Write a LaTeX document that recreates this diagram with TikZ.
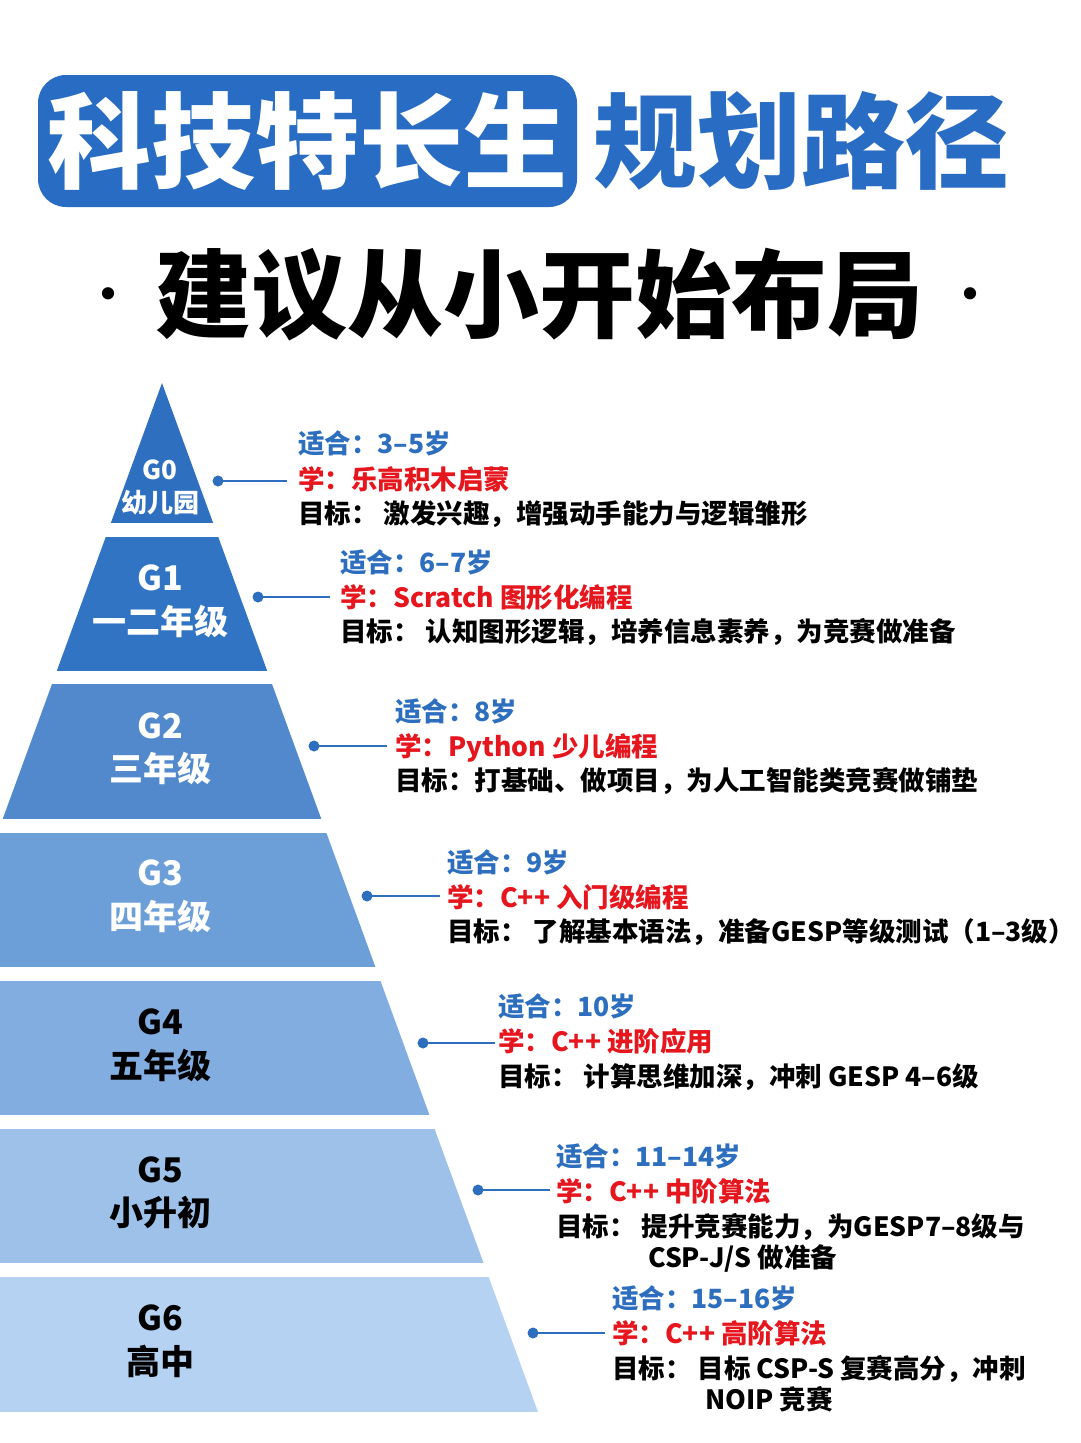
\documentclass[tikz,border=0pt]{standalone}
\usepackage{fontspec}
\setmainfont{Noto Sans CJK SC}
\newfontfamily\heavy{Noto Sans CJK SC Black}
\usetikzlibrary{calc}
\definecolor{tblue}{RGB}{40,108,195}
\definecolor{ablue}{RGB}{45,110,190}
\definecolor{lred}{RGB}{230,22,30}
\definecolor{c0}{RGB}{46,111,192}
\definecolor{c1}{RGB}{50,116,196}
\definecolor{c2}{RGB}{82,137,205}
\definecolor{c3}{RGB}{108,158,216}
\definecolor{c4}{RGB}{129,173,224}
\definecolor{c5}{RGB}{158,193,233}
\definecolor{c6}{RGB}{181,210,242}
\begin{document}
\begin{tikzpicture}[x=1pt,y=-1pt,
  lab/.style={font=\bfseries\fontsize{34}{34}\selectfont, inner sep=0},
  labs/.style={font=\bfseries\fontsize{26}{26}\selectfont, inner sep=0},
  info/.style={anchor=base west, inner sep=0, font=\bfseries\fontsize{26.5}{30}\selectfont},
  age/.style={info, text=ablue},
  learn/.style={info, text=lred},
  goal/.style={info, text=black},
  conn/.style={draw=ablue, line width=2pt},
  dotc/.style={fill=ablue}]
\path[use as bounding box, fill=white] (0,0) rectangle (1080,1443);

% title
\node[fill=tblue, rounded corners=28pt, minimum width=539pt, minimum height=132pt,
      text=white, font=\heavy\fontsize{104}{104}\selectfont, inner sep=0] (t1) at (307.5,141) {科技特长生};
\node[text=tblue, font=\heavy\fontsize{104}{104}\selectfont, inner sep=0] (t2) at (801,141) {规划路径};
\node[font=\heavy\fontsize{96}{96}\selectfont, inner sep=0] (sub) at (539,295) {建议从小开始布局};
\node[font=\bfseries\fontsize{44}{44}\selectfont, inner sep=0] (dl) at (108,299) {·};
\node[font=\bfseries\fontsize{44}{44}\selectfont, inner sep=0] (dr) at (970,299) {·};

% pyramid
\begin{scope}
\clip (162,383) -- (-214,1412) -- (538,1412) -- cycle;
\fill[c0] (0,380) rectangle (600,523);
\fill[c1] (0,537) rectangle (600,671);
\fill[c2] (0,684) rectangle (600,819);
\fill[c3] (0,833) rectangle (600,967);
\fill[c4] (0,981) rectangle (600,1115);
\fill[c5] (0,1129) rectangle (600,1263);
\fill[c6] (0,1277) rectangle (600,1412);
\end{scope}

% band labels
\node[labs, text=white] (g0a) at (160,470) {G0};
\node[labs, text=white] (g0b) at (160,503) {幼儿园};
\node[lab, text=white] (g1a) at (160,578) {G1};
\node[lab, text=white] (g1b) at (160,621) {一二年级};
\node[lab, text=white] (g2a) at (160,726) {G2};
\node[lab, text=white] (g2b) at (160,768) {三年级};
\node[lab, text=white] (g3a) at (160,873) {G3};
\node[lab, text=white] (g3b) at (160,916) {四年级};
\node[lab] (g4a) at (160,1022) {G4};
\node[lab] (g4b) at (160,1065) {五年级};
\node[lab] (g5a) at (160,1170) {G5};
\node[lab] (g5b) at (160,1212) {小升初};
\node[lab] (g6a) at (160,1318) {G6};
\node[lab] (g6b) at (160,1361) {高中};

% G0
\node[age]   (a0) at (298,453) {适合：3–5岁};
\node[learn] (l0) at (298,489) {学：乐高积木启蒙};
\node[goal]  (o0) at (298,523) {目标：\ 激发兴趣，增强动手能力与逻辑雏形};
\coordinate (d0) at (218,481); \coordinate (e0) at (287,481);
% G1
\node[age]   (a1) at (340,572) {适合：6–7岁};
\node[learn] (l1) at (340,607) {学：Scratch 图形化编程};
\node[goal]  (o1) at (340,641) {目标：\ 认知图形逻辑，培养信息素养，为竞赛做准备};
\coordinate (d1) at (258,597); \coordinate (e1) at (330,597);
% G2
\node[age]   (a2) at (395,721) {适合：8岁};
\node[learn] (l2) at (395,756) {学：Python 少儿编程};
\node[goal]  (o2) at (395,790) {目标：打基础、做项目，为人工智能类竞赛做铺垫};
\coordinate (d2) at (314,746); \coordinate (e2) at (387,746);
% G3
\node[age]   (a3) at (447,872) {适合：9岁};
\node[learn] (l3) at (447,907) {学：C++ 入门级编程};
\node[goal]  (o3) at (447,941) {目标：\ 了解基本语法，准备GESP等级测试（1–3级）};
\coordinate (d3) at (367,896); \coordinate (e3) at (440,896);
% G4
\node[age]   (a4) at (498,1016) {适合：10岁};
\node[learn] (l4) at (498,1051) {学：C++ 进阶应用};
\node[goal]  (o4) at (498,1086) {目标：\ 计算思维加深，冲刺 GESP 4–6级};
\coordinate (d4) at (423,1043); \coordinate (e4) at (495,1043);
% G5
\node[age]   (a5) at (556,1166) {适合：11–14岁};
\node[learn] (l5) at (556,1201) {学：C++ 中阶算法};
\node[goal]  (o5) at (556,1236) {目标：\ 提升竞赛能力，为GESP7–8级与};
\node[goal]  (p5) at (648,1267) {CSP-J/S 做准备};
\coordinate (d5) at (478,1190); \coordinate (e5) at (550,1190);
% G6
\node[age]   (a6) at (612,1308) {适合：15–16岁};
\node[learn] (l6) at (612,1343) {学：C++ 高阶算法};
\node[goal]  (o6) at (612,1378) {目标：\ 目标 CSP-S 复赛高分，冲刺};
\node[goal]  (p6) at (705,1409) {NOIP 竞赛};
\coordinate (d6) at (533,1333); \coordinate (e6) at (605,1333);

% connectors
\foreach \i in {0,...,6}{
  \draw[conn] (d\i) -- (e\i);
  \fill[dotc] (d\i) circle (5.5pt);
}
\end{tikzpicture}
\end{document}
